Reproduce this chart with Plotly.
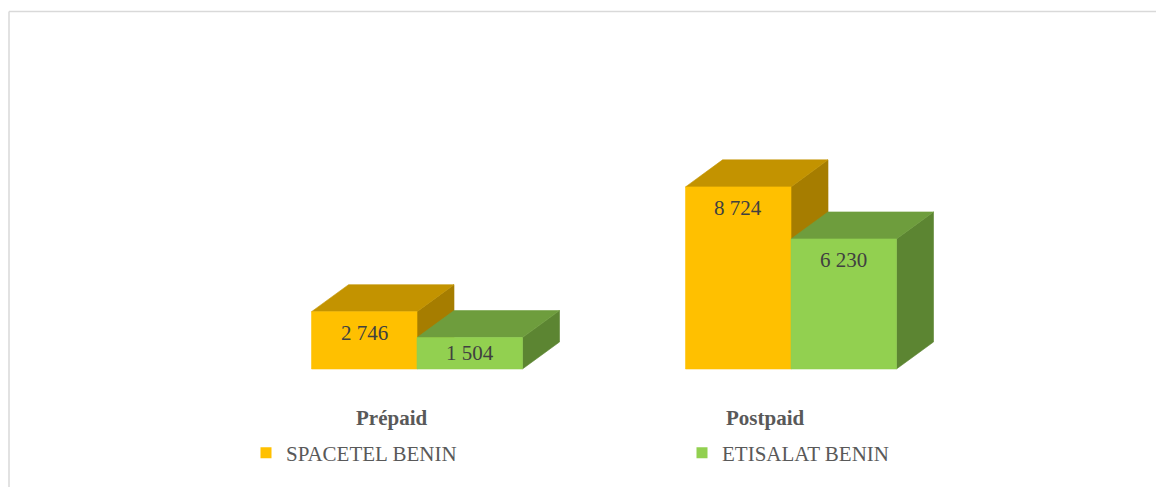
import plotly.graph_objects as go

categories = ["Prépaid", "Postpaid"]
series_names = ["SPACETEL BENIN", "ETISALAT BENIN"]
spacetel = [2746, 8724]
etisalat = [1504, 6230]
value_labels_spacetel = ["2 746", "8 724"]
value_labels_etisalat = ["1 504", "6 230"]

front_colors = ["#FFC000", "#92D050"]
top_colors = ["#C39300", "#6E9D3D"]
side_colors = ["#A67D00", "#5C8532"]

W = 0.282      # bar width in category units
DX = 0.099     # depth offset x (category units)
DY = 1294      # depth offset y (value units)

fig = go.Figure()

def poly(xs, ys, color):
    fig.add_trace(go.Scatter(x=xs + [xs[0]], y=ys + [ys[0]], mode="lines", fill="toself",
                             fillcolor=color, line=dict(width=0.6, color=color),
                             hoverinfo="skip", showlegend=False))

annots = []
series = [spacetel, etisalat]
labels = [value_labels_spacetel, value_labels_etisalat]
for ci, cat in enumerate(categories):
    for si in range(2):
        v = series[si][ci]
        x0 = ci - W if si == 0 else ci
        x1 = x0 + W
        poly([x1, x1, x1 + DX, x1 + DX], [0, v, v + DY, DY], side_colors[si])
        poly([x0, x1, x1 + DX, x0 + DX], [v, v, v + DY, v + DY], top_colors[si])
        poly([x0, x1, x1, x0], [0, 0, v, v], front_colors[si])
        annots.append(dict(x=(x0 + x1) / 2, y=v - min(v / 2, 1000), text=labels[si][ci],
                           showarrow=False, xref="x", yref="y",
                           font=dict(family="Liberation Serif", size=21, color="#404040")))
    annots.append(dict(x=ci - 0.067, y=-2350, text="<b>" + cat + "</b>", showarrow=False,
                       xref="x", yref="y",
                       font=dict(family="Liberation Serif", size=21, color="#595959")))

legend_names = ["legend", "legend2"]
for si in range(2):
    fig.add_trace(go.Scatter(x=[None], y=[None], mode="markers", name=series_names[si],
                             legend=legend_names[si],
                             marker=dict(symbol="square", size=11, color=front_colors[si])))

H = 479
WID = 1156
leg_font = dict(family="Liberation Serif", size=21, color="#595959")
leg_y = (H - 445) / H
frame_y = (H - 3.5) / H
frame_x = 1 / WID
fig.update_layout(
    width=WID, height=H,
    margin=dict(l=0, r=0, t=0, b=0, autoexpand=False),
    paper_bgcolor="white", plot_bgcolor="white",
    xaxis=dict(range=[-1.0936, 1.9973], visible=False, fixedrange=True),
    yaxis=dict(range=[-5653, 17293], visible=False, fixedrange=True),
    annotations=annots,
    showlegend=True,
    legend=dict(x=238 / WID, y=leg_y, xanchor="left", yanchor="middle",
                font=leg_font, bgcolor="rgba(0,0,0,0)"),
    legend2=dict(x=674 / WID, y=leg_y, xanchor="left", yanchor="middle",
                 font=leg_font, bgcolor="rgba(0,0,0,0)"),
    shapes=[
        dict(type="line", xref="paper", yref="paper", x0=frame_x, x1=frame_x,
             y0=0, y1=frame_y, line=dict(color="#D9D9D9", width=1.5)),
        dict(type="line", xref="paper", yref="paper", x0=frame_x, x1=1,
             y0=frame_y, y1=frame_y, line=dict(color="#D9D9D9", width=1.5)),
    ],
)

fig.write_html("out.html")
